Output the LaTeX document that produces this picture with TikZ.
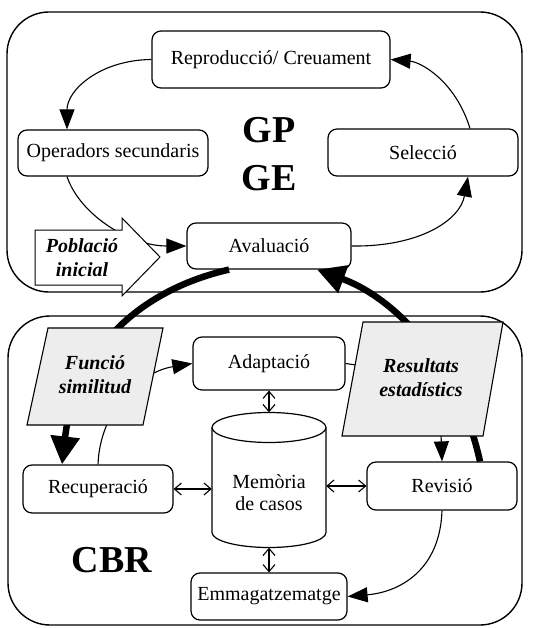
\documentclass[tikz,border=0pt]{standalone}
\usepackage{fontspec}
\setmainfont{Liberation Serif}
\usetikzlibrary{arrows.meta}
\begin{document}
\begin{tikzpicture}[x=1pt,y=-1pt,
  every node/.style={font=\fontsize{20}{22}\selectfont},
  proc/.style={draw, line width=1.2pt, rounded corners=9pt, inner sep=0pt, align=center},
  frame/.style={draw, line width=1.4pt, rounded corners=42pt},
  flow/.style={line width=1.1pt, -{Triangle[length=20pt,width=15pt]}},
  thickflow/.style={line width=6.5pt, -{Triangle[length=28pt,width=28pt]}},
  link/.style={line width=1.1pt, {Straight Barb[length=7pt,width=12pt]}-{Straight Barb[length=7pt,width=12pt]}},
  datainput/.style={fill=black!7, draw, line width=1.1pt},
  lbl/.style={font=\fontsize{20}{24}\selectfont\bfseries\itshape, align=center},
  big/.style={font=\fontsize{38}{40}\selectfont\bfseries}
]
\useasboundingbox (0,0) rectangle (536,628);

% outer frames
\draw[frame] (7,12) rectangle (522,292);
\draw[frame] (8,316) rectangle (522,625);

% evolutionary loop
\node[proc, minimum width=238pt, minimum height=57pt] (rep) at (271,59.5) {Reproducció/ Creuament};
\node[proc, minimum width=190pt, minimum height=46pt] (ops) at (113,153) {Operadors secundaris};
\node[proc, minimum width=190pt, minimum height=47pt] (sel) at (423,152.5) {Selecció};
\node[proc, minimum width=164pt, minimum height=46pt] (ava) at (269,246) {Avaluació};
\node[big] (gp) at (269,130) {GP};
\node[big] (ge) at (269,178) {GE};

\draw[flow] (rep.west) .. controls (100,60) and (67,90) .. ([xshift=-46pt]ops.north);
\draw[flow] ([xshift=-46pt]ops.south) .. controls (80,215) and (130,246) .. (ava.west);
\draw[flow] (ava.east) .. controls (420,247) and (460,220) .. ([xshift=45pt]sel.south);
\draw[flow] ([xshift=47pt]sel.north) .. controls (455,80) and (420,62) .. (rep.east);

% initial population block arrow
\filldraw[fill=white, draw, line width=1pt] (35,230) -- (122,230) -- (122,218) -- (160,257)
  -- (122,296) -- (122,285) -- (35,285) -- cycle;
\node[lbl] (pob) at (82,258) {Població\\inicial};

% case-based reasoning cycle
\node[proc, minimum width=152pt, minimum height=53pt] (ada) at (269,363.5) {Adaptació};
\node[proc, minimum width=150pt, minimum height=48pt] (rec) at (98,489) {Recuperació};
\node[proc, minimum width=150pt, minimum height=48pt] (rev) at (442,486) {Revisió};
\node[proc, minimum width=156pt, minimum height=47pt] (emm) at (269,596.5) {Emmagatzematge};
\node[minimum width=114pt, minimum height=135pt, inner sep=0pt] (mem) at (269,480) {};

% case memory cylinder
\draw[line width=1.2pt] (212,427.5) -- (212,532.5)
  arc[start angle=180, end angle=360, x radius=57pt, y radius=15pt] -- (326,427.5);
\draw[line width=1.2pt] (269,427.5) ellipse[x radius=57pt, y radius=15pt];
\node[align=center] (memtxt) at (269,493) {Memòria\\de casos};

\draw[link] (rec.east) -- (rec.east -| mem.west);
\draw[link] (mem.east |- rev.west) -- (rev.west);
\draw[link] (ada.south) -- (mem.north);
\draw[link] (mem.south) -- (emm.north);

\draw[flow] (rec.north) .. controls (100,410) and (140,372) .. (ada.west);
\draw[flow] (ada.east) .. controls (400,370) and (440,400) .. (rev.north);
\draw[flow] (rev.south) .. controls (440,570) and (400,592) .. (emm.east);

\node[big] (cbr) at (112,560) {CBR};

% links between both systems
\draw[thickflow] ([xshift=-40pt]ava.south) .. controls (140,290) and (75,350) .. ([xshift=-36pt]rec.north);
\draw[thickflow] ([xshift=38pt]rev.north) .. controls (460,370) and (400,300) .. ([xshift=48pt]ava.south);

% data inputs
\filldraw[datainput] (48,328) -- (163,328) -- (143,425) -- (27,425) -- cycle;
\node[lbl] (fun) at (95,375) {Funció\\similitud};
\filldraw[datainput] (363,322) -- (503,322) -- (483,436) -- (342,436) -- cycle;
\node[lbl] (res) at (421,378) {Resultats\\estadístics};
\end{tikzpicture}
\end{document}
